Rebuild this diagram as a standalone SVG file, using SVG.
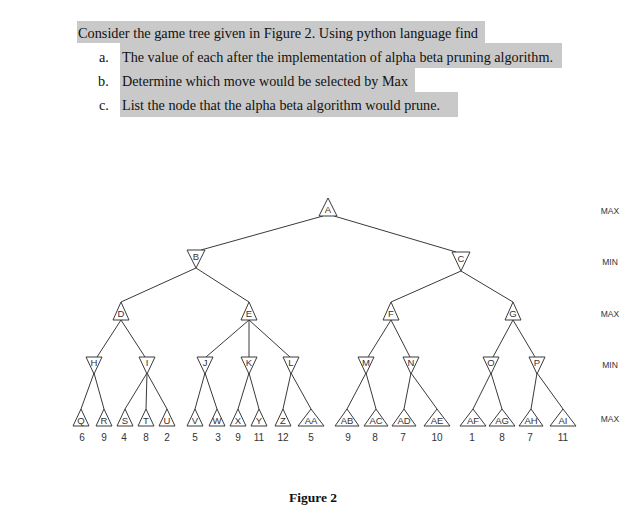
<svg xmlns="http://www.w3.org/2000/svg" width="641" height="513" viewBox="0 0 641 513">
<style>
.hl{fill:#c9c9c9}
.q{font-family:"Liberation Serif","Times New Roman",serif;font-size:14.3px;fill:#111}
.fig{font-family:"Liberation Serif","Times New Roman",serif;font-size:13.5px;font-weight:bold;fill:#111}
.e{stroke:#3a3a3a;stroke-width:1;fill:none}
.t{fill:#fff;stroke:#3a3a3a;stroke-width:1}
.nl{font-family:"Liberation Sans",Arial,sans-serif;font-size:9.5px;fill:#333;text-anchor:middle}
.v{font-family:"Liberation Sans",Arial,sans-serif;font-size:10px;fill:#333;text-anchor:middle}
.lv{font-family:"Liberation Sans",Arial,sans-serif;font-size:8.5px;fill:#333;text-anchor:middle}
</style>
<rect width="641" height="513" fill="#fff"/>
<g id="question">
<rect class="hl" x="77" y="21" width="408" height="22"/>
<rect class="hl" x="120" y="43" width="442" height="25"/>
<rect class="hl" x="120" y="68" width="295" height="24"/>
<rect class="hl" x="120" y="92" width="338" height="25"/>
<text class="q" x="78" y="38" textLength="400" lengthAdjust="spacingAndGlyphs">Consider the game tree given in Figure 2. Using python language find</text>
<text class="q" x="99" y="62">a.</text>
<text class="q" x="122" y="62" textLength="431" lengthAdjust="spacingAndGlyphs">The value of each after the implementation of alpha beta pruning algorithm.</text>
<text class="q" x="98" y="86">b.</text>
<text class="q" x="122" y="86" textLength="286" lengthAdjust="spacingAndGlyphs">Determine which move would be selected by Max</text>
<text class="q" x="99" y="110">c.</text>
<text class="q" x="122" y="110" textLength="318" lengthAdjust="spacingAndGlyphs">List the node that the alpha beta algorithm would prune.</text>
</g>
<g id="connectors">
<line class="e" x1="323" y1="216" x2="201" y2="250"/>
<line class="e" x1="334" y1="216" x2="456" y2="252"/>
<line class="e" x1="196" y1="268" x2="121" y2="302"/>
<line class="e" x1="196" y1="268" x2="249" y2="302"/>
<line class="e" x1="461" y1="271" x2="391" y2="302"/>
<line class="e" x1="461" y1="271" x2="513" y2="302"/>
<line class="e" x1="121" y1="320" x2="97" y2="357"/>
<line class="e" x1="121" y1="320" x2="145" y2="357"/>
<line class="e" x1="249" y1="320" x2="206" y2="357"/>
<line class="e" x1="249" y1="320" x2="249" y2="357"/>
<line class="e" x1="249" y1="320" x2="290" y2="357"/>
<line class="e" x1="391" y1="320" x2="368" y2="357"/>
<line class="e" x1="391" y1="320" x2="410" y2="357"/>
<line class="e" x1="513" y1="320" x2="493" y2="357"/>
<line class="e" x1="513" y1="320" x2="535" y2="357"/>
<line class="e" x1="94" y1="373" x2="81" y2="409"/>
<line class="e" x1="94" y1="373" x2="104" y2="409"/>
<line class="e" x1="147" y1="373" x2="125" y2="409"/>
<line class="e" x1="147" y1="373" x2="146" y2="409"/>
<line class="e" x1="147" y1="373" x2="167" y2="409"/>
<line class="e" x1="205" y1="373" x2="195" y2="409"/>
<line class="e" x1="205" y1="373" x2="217" y2="409"/>
<line class="e" x1="249" y1="373" x2="238" y2="409"/>
<line class="e" x1="249" y1="373" x2="259" y2="409"/>
<line class="e" x1="291" y1="373" x2="283" y2="409"/>
<line class="e" x1="291" y1="373" x2="311" y2="409"/>
<line class="e" x1="366" y1="373" x2="347" y2="409"/>
<line class="e" x1="366" y1="373" x2="376" y2="409"/>
<line class="e" x1="411" y1="373" x2="404" y2="409"/>
<line class="e" x1="411" y1="373" x2="437" y2="409"/>
<line class="e" x1="491" y1="373" x2="473" y2="409"/>
<line class="e" x1="491" y1="373" x2="502" y2="409"/>
<line class="e" x1="537" y1="373" x2="531" y2="409"/>
<line class="e" x1="537" y1="373" x2="563" y2="409"/>
</g>
<g id="A"><polygon class="t" points="328,198 337,216 319,216"/><text class="nl" x="328" y="213">A</text></g>
<g id="B"><polygon class="t" points="187,250 205,250 196,268"/><text class="nl" x="196" y="260">B</text></g>
<g id="C"><polygon class="t" points="452,252 470,252 461,271"/><text class="nl" x="461" y="262">C</text></g>
<g id="D"><polygon class="t" points="121,302 129,320 113,320"/><text class="nl" x="121" y="317">D</text></g>
<g id="E"><polygon class="t" points="249,302 257,320 241,320"/><text class="nl" x="249" y="317">E</text></g>
<g id="F"><polygon class="t" points="391,302 399,320 383,320"/><text class="nl" x="391" y="317">F</text></g>
<g id="G"><polygon class="t" points="513,302 521,320 505,320"/><text class="nl" x="513" y="317">G</text></g>
<g id="H"><polygon class="t" points="86,357 102,357 94,374"/><text class="nl" x="94" y="366">H</text></g>
<g id="I"><polygon class="t" points="139,357 155,357 147,374"/><text class="nl" x="147" y="366">I</text></g>
<g id="J"><polygon class="t" points="197,357 213,357 205,374"/><text class="nl" x="205" y="366">J</text></g>
<g id="K"><polygon class="t" points="241,357 257,357 249,374"/><text class="nl" x="249" y="366">K</text></g>
<g id="L"><polygon class="t" points="283,357 299,357 291,374"/><text class="nl" x="291" y="366">L</text></g>
<g id="M"><polygon class="t" points="358,357 374,357 366,374"/><text class="nl" x="366" y="366">M</text></g>
<g id="N"><polygon class="t" points="403,357 419,357 411,374"/><text class="nl" x="411" y="366">N</text></g>
<g id="O"><polygon class="t" points="483,357 499,357 491,374"/><text class="nl" x="491" y="366">O</text></g>
<g id="P"><polygon class="t" points="529,357 545,357 537,374"/><text class="nl" x="537" y="366">P</text></g>
<g id="Q"><polygon class="t" points="81,409 89,426 73,426"/><text class="nl" x="81" y="424">Q</text><text class="v" x="82" y="441">6</text></g>
<g id="R"><polygon class="t" points="104,409 112,426 96,426"/><text class="nl" x="104" y="424">R</text><text class="v" x="104" y="441">9</text></g>
<g id="S"><polygon class="t" points="125,409 133,426 117,426"/><text class="nl" x="125" y="424">S</text><text class="v" x="124" y="441">4</text></g>
<g id="T"><polygon class="t" points="146,409 154,426 138,426"/><text class="nl" x="146" y="424">T</text><text class="v" x="146" y="441">8</text></g>
<g id="U"><polygon class="t" points="167,409 175,426 159,426"/><text class="nl" x="167" y="424">U</text><text class="v" x="167" y="441">2</text></g>
<g id="V"><polygon class="t" points="195,409 203,426 187,426"/><text class="nl" x="195" y="424">V</text><text class="v" x="195" y="441">5</text></g>
<g id="W"><polygon class="t" points="217,409 225,426 209,426"/><text class="nl" x="217" y="424">W</text><text class="v" x="218" y="441">3</text></g>
<g id="X"><polygon class="t" points="238,409 246,426 230,426"/><text class="nl" x="238" y="424">X</text><text class="v" x="238" y="441">9</text></g>
<g id="Y"><polygon class="t" points="259,409 267,426 251,426"/><text class="nl" x="259" y="424">Y</text><text class="v" x="259" y="441">11</text></g>
<g id="Z"><polygon class="t" points="283,409 291,426 275,426"/><text class="nl" x="283" y="424">Z</text><text class="v" x="283" y="441">12</text></g>
<g id="AA"><polygon class="t" points="311,409 324,426 298,426"/><text class="nl" x="311" y="424">AA</text><text class="v" x="311" y="441">5</text></g>
<g id="AB"><polygon class="t" points="347,409 359,426 335,426"/><text class="nl" x="347" y="424">AB</text><text class="v" x="348" y="441">9</text></g>
<g id="AC"><polygon class="t" points="376,409 388,426 364,426"/><text class="nl" x="376" y="424">AC</text><text class="v" x="375" y="441">8</text></g>
<g id="AD"><polygon class="t" points="404,409 416,426 392,426"/><text class="nl" x="404" y="424">AD</text><text class="v" x="403" y="441">7</text></g>
<g id="AE"><polygon class="t" points="437,409 450,426 424,426"/><text class="nl" x="437" y="424">AE</text><text class="v" x="437" y="441">10</text></g>
<g id="AF"><polygon class="t" points="473,409 486,426 460,426"/><text class="nl" x="473" y="424">AF</text><text class="v" x="472" y="441">1</text></g>
<g id="AG"><polygon class="t" points="502,409 515,426 489,426"/><text class="nl" x="502" y="424">AG</text><text class="v" x="502" y="441">8</text></g>
<g id="AH"><polygon class="t" points="531,409 543,426 519,426"/><text class="nl" x="531" y="424">AH</text><text class="v" x="530" y="441">7</text></g>
<g id="AI"><polygon class="t" points="563,409 576,426 550,426"/><text class="nl" x="563" y="424">AI</text><text class="v" x="563" y="441">11</text></g>
<g id="levels">
<text class="lv" x="610" y="214">MAX</text>
<text class="lv" x="610" y="265">MIN</text>
<text class="lv" x="610" y="317">MAX</text>
<text class="lv" x="610" y="368">MIN</text>
<text class="lv" x="610" y="422">MAX</text>
</g>
<text class="fig" x="313" y="502" text-anchor="middle">Figure 2</text>
</svg>
